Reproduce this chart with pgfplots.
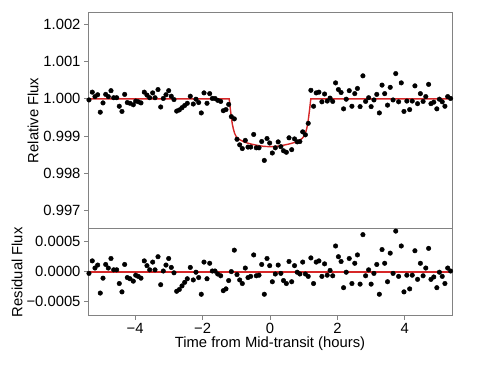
\documentclass[border=0pt]{standalone}
\usepackage{pgfplots}
\pgfplotsset{compat=1.18}
\usepackage{pgfplotstable}
\usepackage{fontspec}
\setmainfont{Liberation Sans}
\definecolor{fitred}{RGB}{214,39,40}
\definecolor{framegray}{RGB}{130,130,130}

\pgfplotstableread{
t flux resid
-5.430 1.00034 0.00034
-5.371 0.99997 -0.00003
-5.273 1.00018 0.00018
-5.193 1.00006 0.00006
-5.113 1.00011 0.00011
-5.036 0.99964 -0.00036
-4.955 0.99989 -0.00011
-4.875 1.00012 0.00012
-4.798 1.00006 0.00006
-4.718 1.00022 0.00022
-4.638 1.00003 0.00003
-4.549 1.00003 0.00003
-4.472 0.99980 -0.00020
-4.392 0.99966 -0.00034
-4.312 1.00012 0.00012
-4.234 0.99990 -0.00010
-4.154 0.99988 -0.00012
-4.056 0.99984 -0.00016
-3.985 0.99994 -0.00006
-3.908 0.99992 -0.00008
-3.828 0.99989 -0.00011
-3.730 1.00018 0.00018
-3.650 1.00010 0.00010
-3.570 1.00003 0.00003
-3.481 1.00016 0.00016
-3.412 1.00003 0.00003
-3.323 1.00025 0.00025
-3.243 0.99978 -0.00022
-3.166 1.00001 0.00001
-3.086 1.00011 0.00011
-3.006 1.00022 0.00022
-2.929 1.00007 0.00007
-2.849 0.99998 -0.00002
-2.769 0.99967 -0.00033
-2.691 0.99970 -0.00030
-2.611 0.99976 -0.00024
-2.531 0.99982 -0.00018
-2.454 0.99988 -0.00012
-2.365 1.00007 0.00007
-2.276 0.99986 -0.00014
-2.196 0.99999 -0.00001
-2.116 0.99990 -0.00010
-2.039 0.99962 -0.00038
-1.958 1.00016 0.00016
-1.869 0.99988 -0.00012
-1.789 1.00014 0.00014
-1.712 1.00001 0.00001
-1.632 1.00001 0.00001
-1.552 0.99996 -0.00004
-1.463 0.99993 -0.00007
-1.386 0.99968 -0.00032
-1.306 0.99971 -0.00029
-1.226 0.99985 -0.00015
-1.148 0.99952 0.00000
-1.059 0.99946 0.00036
-0.979 0.99891 -0.00005
-0.899 0.99876 -0.00014
-0.822 0.99866 -0.00020
-0.733 0.99888 0.00006
-0.653 0.99870 -0.00010
-0.573 0.99870 -0.00008
-0.484 0.99904 0.00028
-0.407 0.99868 -0.00007
-0.326 0.99868 -0.00006
-0.246 0.99885 0.00012
-0.169 0.99834 -0.00038
-0.089 0.99893 0.00022
-0.009 0.99881 0.00010
0.069 0.99854 -0.00017
0.158 0.99868 -0.00004
0.243 0.99884 0.00011
0.322 0.99871 -0.00003
0.400 0.99860 -0.00015
0.485 0.99856 -0.00020
0.564 0.99895 0.00017
0.644 0.99863 -0.00017
0.728 0.99892 0.00010
0.807 0.99884 -0.00001
0.886 0.99885 -0.00004
0.970 0.99911 0.00016
1.050 0.99903 -0.00004
1.134 0.99934 -0.00008
1.213 1.00023 0.00023
1.292 0.99980 -0.00020
1.371 1.00016 0.00016
1.451 1.00018 0.00018
1.540 0.99992 -0.00008
1.619 1.00013 0.00013
1.698 0.99994 -0.00006
1.782 1.00002 0.00002
1.861 0.99993 -0.00007
1.946 1.00043 0.00043
2.030 1.00025 0.00025
2.109 1.00017 0.00017
2.183 0.99973 -0.00027
2.262 0.99999 -0.00001
2.351 1.00022 0.00022
2.431 0.99980 -0.00020
2.515 1.00014 0.00014
2.594 1.00028 0.00028
2.673 0.99979 -0.00021
2.757 1.00062 0.00062
2.837 0.99993 -0.00007
2.926 1.00003 0.00003
3.000 0.99979 -0.00021
3.084 0.99997 -0.00003
3.168 1.00012 0.00012
3.244 0.99962 -0.00038
3.324 1.00037 0.00037
3.403 1.00014 0.00014
3.487 0.99983 -0.00017
3.567 1.00031 0.00031
3.651 0.99997 -0.00003
3.731 1.00068 0.00068
3.816 0.99992 -0.00008
3.895 1.00043 0.00043
3.975 0.99966 -0.00034
4.060 0.99994 -0.00006
4.144 0.99971 -0.00029
4.220 0.99994 -0.00006
4.300 1.00035 0.00035
4.378 0.99987 -0.00013
4.462 1.00014 0.00014
4.542 0.99993 -0.00007
4.622 1.00006 0.00006
4.706 1.00039 0.00039
4.776 0.99987 -0.00013
4.859 0.99991 -0.00009
4.950 0.99973 -0.00027
5.026 0.99999 -0.00001
5.110 0.99992 -0.00008
5.190 0.99980 -0.00020
5.272 1.00006 0.00006
5.358 1.00001 0.00001
}\lcdata

\pgfplotstableread{
t model
-5.40 1.00000
-1.21 1.00000
-1.18 0.99975
-1.15 0.99953
-1.12 0.99933
-1.09 0.99920
-1.05 0.99907
-1.00 0.99898
-0.95 0.99893
-0.90 0.99890
-0.75 0.99883
-0.60 0.99879
-0.40 0.99875
-0.20 0.99872
0.00 0.99871
0.20 0.99872
0.40 0.99875
0.60 0.99879
0.75 0.99883
0.90 0.99890
0.95 0.99893
1.00 0.99898
1.05 0.99907
1.09 0.99920
1.12 0.99933
1.15 0.99953
1.18 0.99975
1.21 1.00000
5.40 1.00000
}\modeldata

\pgfplotstableread{
t zero
-5.40 0.0
5.40 0.0
}\zerodata

\begin{document}
\begin{tikzpicture}[x=1pt,y=1pt]
\path (0,0) rectangle (500,368);
\pgfplotsset{
  panel/.style={
    scale only axis,
    width=364pt,
    xmin=-5.4, xmax=5.4,
    scaled ticks=false,
    axis line style={framegray, line width=0.8pt},
    tick style={framegray, line width=0.8pt},
    major tick length=4pt,
    tick align=outside,
    xtick pos=bottom, ytick pos=left,
    ticklabel style={font=\fontsize{14.8}{17}\selectfont, text=black},
    label style={font=\fontsize{14.8}{17}\selectfont},
  },
}
\begin{axis}[panel,
  at={(88pt,139.3pt)}, anchor=south west,
  height=216.7pt,
  ymin=0.9965, ymax=1.00234,
  xtick=\empty,
  ytick={0.997,0.998,0.999,1.000,1.001,1.002},
  yticklabels={0.997,0.998,0.999,1.000,1.001,1.002},
  ylabel={Relative Flux},
  ylabel style={at={(axis description cs:-0.151,0.5)}, anchor=center},
]
\addplot[only marks, mark=*, mark size=2.3pt, black] table[x=t, y=flux] {\lcdata};
\addplot[draw=fitred, line width=1.4pt, mark=none] table[x=t, y=model] {\modeldata};
\end{axis}

\begin{axis}[panel,
  at={(88pt,52.3pt)}, anchor=south west,
  height=87pt,
  ymin=-0.00074, ymax=0.00072,
  xtick={-4,-2,0,2,4},
  xticklabels={−4,−2,0,2,4},
  ytick={-0.0005,0,0.0005},
  yticklabels={−0.0005,0.0000,0.0005},
  ylabel={Residual Flux},
  ylabel style={at={(axis description cs:-0.195,0.5)}, anchor=center},
  xlabel={Time from Mid-transit (hours)},
  xlabel style={at={(axis description cs:0.5,0)}, anchor=center, yshift=-28pt},
]
\addplot[only marks, mark=*, mark size=2.3pt, black] table[x=t, y=resid] {\lcdata};
\addplot[draw=fitred, line width=2pt, mark=none] table[x=t, y=zero] {\zerodata};
\end{axis}
\end{tikzpicture}
\end{document}
